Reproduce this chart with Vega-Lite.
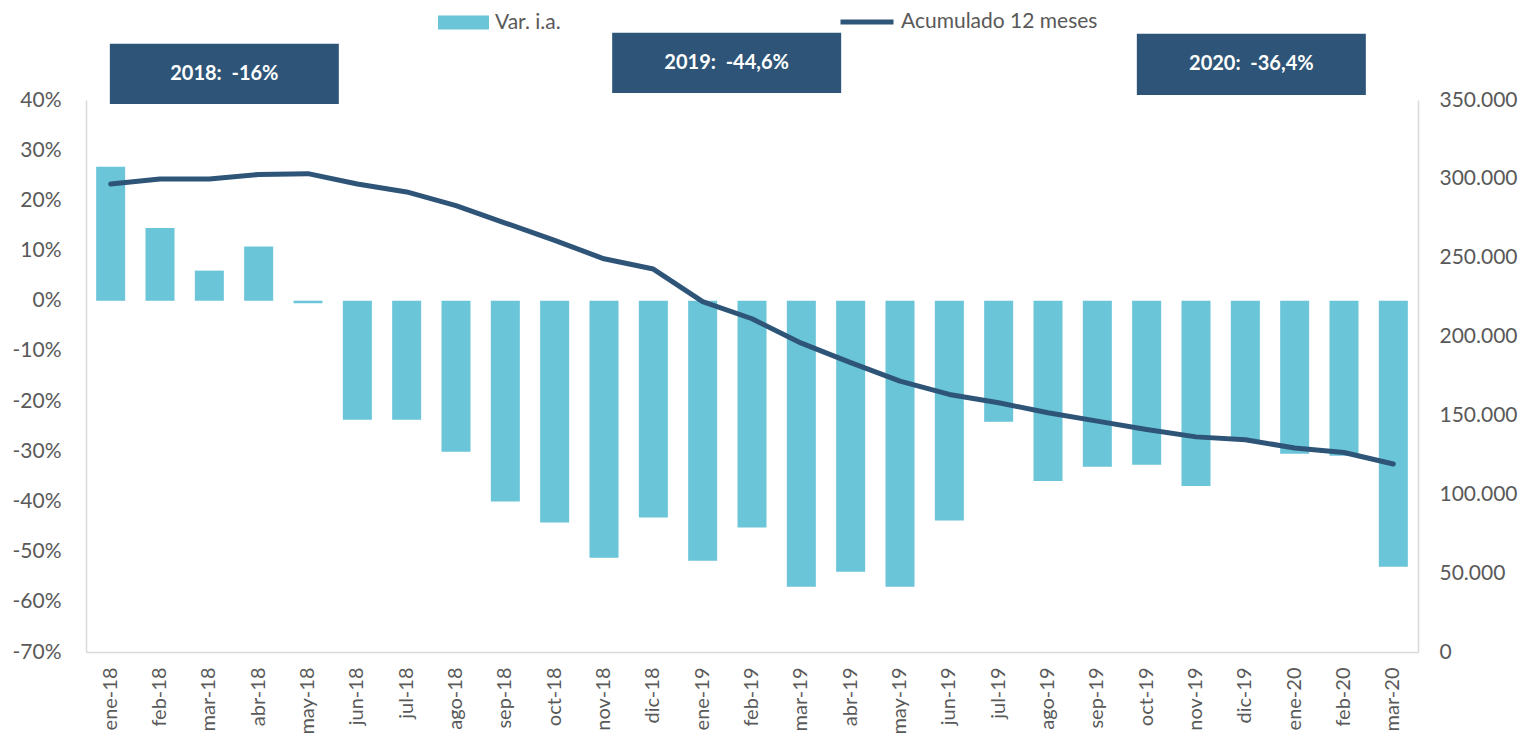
{
  "$schema": "https://vega.github.io/schema/vega-lite/v6.json",
  "width": 1332,
  "height": 552,
  "autosize": {"type": "none"},
  "padding": {"left": 86, "top": 100, "right": 103, "bottom": 84},
  "background": "white",
  "config": {
    "view": {"stroke": null},
    "font": "Lato",
    "axis": {
      "domainColor": "#d9d9d9",
      "domainWidth": 1.5,
      "ticks": false,
      "grid": false,
      "labelColor": "#595959",
      "labelFont": "Lato",
      "labelFontSize": 21,
      "title": null
    },
    "legend": {
      "labelColor": "#595959",
      "labelFont": "Lato",
      "labelFontSize": 21,
      "labelLimit": 0,
      "padding": 0,
      "symbolOffset": 0,
      "title": null
    }
  },
  "datasets": {
    "months": [
      {"mes": "ene-18", "var": 26.7, "acum": 296700},
      {"mes": "feb-18", "var": 14.5, "acum": 299900},
      {"mes": "mar-18", "var": 6.0, "acum": 299900},
      {"mes": "abr-18", "var": 10.8, "acum": 302800},
      {"mes": "may-18", "var": -0.5, "acum": 303300},
      {"mes": "jun-18", "var": -23.7, "acum": 296700},
      {"mes": "jul-18", "var": -23.7, "acum": 291700},
      {"mes": "ago-18", "var": -30.1, "acum": 283000},
      {"mes": "sep-18", "var": -40.0, "acum": 272000},
      {"mes": "oct-18", "var": -44.2, "acum": 261000},
      {"mes": "nov-18", "var": -51.2, "acum": 249300},
      {"mes": "dic-18", "var": -43.2, "acum": 242800},
      {"mes": "ene-19", "var": -51.8, "acum": 222200},
      {"mes": "feb-19", "var": -45.2, "acum": 211300},
      {"mes": "mar-19", "var": -57.0, "acum": 195800},
      {"mes": "abr-19", "var": -54.0, "acum": 183500},
      {"mes": "may-19", "var": -57.0, "acum": 171800},
      {"mes": "jun-19", "var": -43.8, "acum": 163300},
      {"mes": "jul-19", "var": -24.1, "acum": 158000},
      {"mes": "ago-19", "var": -35.9, "acum": 151700},
      {"mes": "sep-19", "var": -33.1, "acum": 146400},
      {"mes": "oct-19", "var": -32.7, "acum": 141100},
      {"mes": "nov-19", "var": -36.9, "acum": 136400},
      {"mes": "dic-19", "var": -27.9, "acum": 134600},
      {"mes": "ene-20", "var": -30.5, "acum": 129300},
      {"mes": "feb-20", "var": -30.9, "acum": 126500},
      {"mes": "mar-20", "var": -53.0, "acum": 119200}
    ],
    "boxes": [
      {"year": "2018", "mes": "mar-18", "label": "2018:\u00a0 -16%", "top": 51.2, "bot": 39.2, "ty": 45.2},
      {"year": "2019", "mes": "ene-19", "label": "2019:\u00a0 -44,6%", "top": 53.4, "bot": 41.4, "ty": 47.4},
      {"year": "2020", "mes": "dic-19", "label": "2020:\u00a0 -36,4%", "top": 53.2, "bot": 41.0, "ty": 47.1}
    ]
  },
  "data": {"name": "months"},
  "resolve": {"scale": {"y": "independent"}},
  "layer": [
    {
      "layer": [
        {
          "mark": {"type": "bar", "width": 29},
          "encoding": {
            "x": {
              "field": "mes", "type": "nominal", "sort": null, "title": null,
              "axis": {"labelAngle": -90, "labelAlign": "right", "labelBaseline": "middle", "labelPadding": 15, "labelFontSize": 20}
            },
            "y": {
              "field": "var", "type": "quantitative", "title": null,
              "scale": {"domain": [-70, 40], "nice": false},
              "axis": {"values": [-70, -60, -50, -40, -30, -20, -10, 0, 10, 20, 30, 40], "labelExpr": "datum.value + '%'", "labelPadding": 25}
            },
            "fill": {
              "datum": "Var. i.a.",
              "scale": {"range": ["#6AC5D8"]},
              "legend": {"orient": "none", "legendX": 351, "legendY": -104, "symbolType": "M-1,-0.275H1V0.275H-1Z", "symbolSize": 2601, "labelOffset": 5}
            }
          }
        },
        {
          "data": {"name": "boxes"},
          "transform": [{"filter": "datum.year == '2018'"}],
          "encoding": {"x": {"field": "mes", "type": "nominal", "sort": null, "title": null}},
          "layer": [
            {"mark": {"type": "bar", "width": 229, "xOffset": 15, "color": "#2E5578"},
             "encoding": {"y": {"field": "top", "type": "quantitative", "title": null}, "y2": {"field": "bot"}}},
            {"mark": {"type": "text", "xOffset": 15, "color": "white", "fontWeight": "bold", "fontSize": 20, "font": "Lato", "baseline": "middle"},
             "encoding": {"y": {"field": "ty", "type": "quantitative", "title": null}, "text": {"field": "label"}}}
          ]
        },
        {
          "data": {"name": "boxes"},
          "transform": [{"filter": "datum.year == '2019'"}],
          "encoding": {"x": {"field": "mes", "type": "nominal", "sort": null, "title": null}},
          "layer": [
            {"mark": {"type": "bar", "width": 229, "xOffset": 24, "color": "#2E5578"},
             "encoding": {"y": {"field": "top", "type": "quantitative", "title": null}, "y2": {"field": "bot"}}},
            {"mark": {"type": "text", "xOffset": 24, "color": "white", "fontWeight": "bold", "fontSize": 20, "font": "Lato", "baseline": "middle"},
             "encoding": {"y": {"field": "ty", "type": "quantitative", "title": null}, "text": {"field": "label"}}}
          ]
        },
        {
          "data": {"name": "boxes"},
          "transform": [{"filter": "datum.year == '2020'"}],
          "encoding": {"x": {"field": "mes", "type": "nominal", "sort": null, "title": null}},
          "layer": [
            {"mark": {"type": "bar", "width": 229, "xOffset": 6, "color": "#2E5578"},
             "encoding": {"y": {"field": "top", "type": "quantitative", "title": null}, "y2": {"field": "bot"}}},
            {"mark": {"type": "text", "xOffset": 6, "color": "white", "fontWeight": "bold", "fontSize": 20, "font": "Lato", "baseline": "middle"},
             "encoding": {"y": {"field": "ty", "type": "quantitative", "title": null}, "text": {"field": "label"}}}
          ]
        }
      ]
    },
    {
      "mark": {"type": "line", "strokeWidth": 5, "strokeCap": "round", "strokeJoin": "round"},
      "encoding": {
        "x": {"field": "mes", "type": "nominal", "sort": null, "title": null},
        "y": {
          "field": "acum", "type": "quantitative", "title": null,
          "scale": {"domain": [0, 350000], "nice": false},
          "axis": {"orient": "right", "values": [0, 50000, 100000, 150000, 200000, 250000, 300000, 350000], "labelExpr": "replace(format(datum.value, ','), ',', '.')", "labelPadding": 21}
        },
        "stroke": {
          "datum": "Acumulado 12 meses",
          "scale": {"range": ["#2E5578"]},
          "legend": {"orient": "none", "legendX": 752, "legendY": -107, "symbolType": "stroke", "symbolSize": 2809, "symbolStrokeWidth": 5, "labelOffset": 5}
        }
      }
    }
  ]
}
